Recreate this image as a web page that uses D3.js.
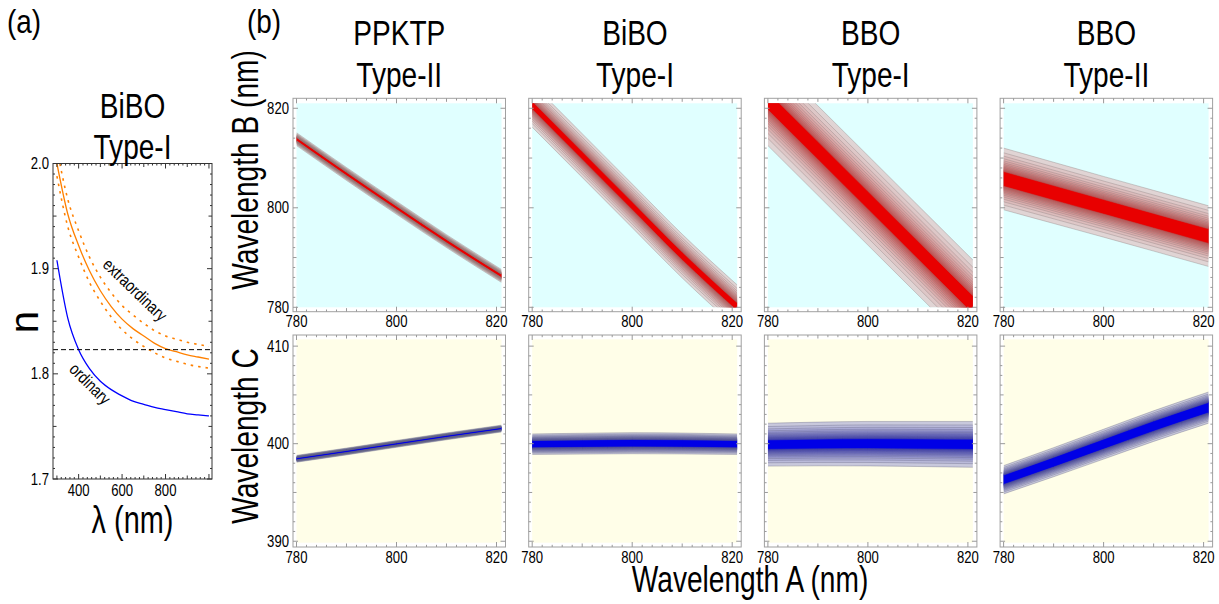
<!DOCTYPE html>
<html><head><meta charset="utf-8">
<script src="https://cdn.jsdelivr.net/npm/d3@7"></script>
<style>body{margin:0;background:#fff} svg{display:block} text{font-family:"Liberation Sans",Arial,sans-serif;fill:#000}</style>
</head><body><svg id="c" width="1219" height="604"></svg>
<script>
// ---------- panel (a) data ----------
const lambdaNm = [300,350,400,450,500,550,600,650,700,750,800,850,900,950,1000];
const nOrdinary = [1.908,1.853,1.823,1.805,1.793,1.785,1.779,1.774,1.771,1.768,1.766,1.764,1.762,1.761,1.760];
const nExtraordinary = [2.000,1.952,1.922,1.898,1.879,1.864,1.852,1.843,1.836,1.829,1.824,1.821,1.818,1.816,1.814];
const nExtraordinaryUpper = [2.014,1.966,1.936,1.911,1.892,1.877,1.865,1.856,1.848,1.841,1.836,1.833,1.830,1.828,1.826];
const nExtraordinaryLower = [1.988,1.940,1.911,1.887,1.869,1.854,1.842,1.833,1.826,1.820,1.815,1.812,1.809,1.807,1.8055];
const phaseMatchN = 1.823;
const aXTicks = [400, 600, 800];
const aYTicks = [1.7, 1.8, 1.9, 2.0];

// ---------- panel (b) data ----------
const crystals = ["PPKTP", "BiBO", "BBO", "BBO"];
const pmTypes = ["Type-II", "Type-I", "Type-I", "Type-II"];
const sampleA = [780, 790, 800, 810, 821];
const centerB = [
  [813.8, 806.8, 800.0, 793.3, 786.3],
  [820.6, 810.5, 800.4, 790.3, 780.1],
  [821.5, 811.5, 801.5, 791.5, 780.5],
  [805.8, 803.0, 800.2, 797.4, 794.3]];
const halfB = [
  [1.3, 1.3, 1.3, 1.3, 1.3],
  [4.4, 4.4, 4.4, 4.4, 4.4],
  [9.0, 9.0, 9.0, 9.0, 9.0],
  [6.2, 6.15, 6.1, 6.1, 6.1]];
const coreB = [0.25, 0.18, 0.2, 0.24];
const centerC = [
  [398.45, 399.2, 399.98, 400.75, 401.55],
  [399.95, 400.0, 400.05, 400.02, 399.95],
  [399.9, 399.97, 400.0, 399.97, 399.93],
  [396.3, 398.1, 399.95, 401.8, 403.7]];
const halfC = [
  [0.35, 0.35, 0.35, 0.35, 0.35],
  [1.05, 1.07, 1.08, 1.07, 1.05],
  [2.2, 2.24, 2.28, 2.31, 2.35],
  [1.45, 1.49, 1.53, 1.57, 1.6]];
const coreC = [0.3, 0.35, 0.22, 0.33];
const levelT = [1, 0.8, 0.66, 0.55, 0.46, 0.38, 0.31, 0.25, 0.19, 0.14, 0.09, 0.045];
const abTicks = [780, 800, 820];
const cTicks = [390, 400, 410];

const svg = d3.select("#c");
function label(str, x, y, size, opts = {}) {
  const {anchor = "middle", rotate = 0, sx = 0.78} = opts;
  return svg.append("text")
    .attr("transform", `translate(${x},${y}) rotate(${rotate}) scale(${sx},1)`)
    .attr("text-anchor", anchor).attr("font-size", size).text(str);
}

// ================= Panel (a) =================
const aL = 53, aR = 212, aT = 163.5, aB = 479;
const xA = d3.scaleLinear().domain([282, 1014]).range([aL, aR]);
const yA = d3.scaleLinear().domain([1.7, 2.0]).range([aB, aT]);
svg.append("clipPath").attr("id", "clipA").append("rect")
  .attr("x", aL).attr("y", aT).attr("width", aR - aL).attr("height", aB - aT);
const ga = svg.append("g");
const ca = ga.append("g").attr("clip-path", "url(#clipA)");
const lineA = arr => d3.line().x((d, i) => xA(lambdaNm[i])).y(d => yA(d)).curve(d3.curveMonotoneX)(arr);
ca.append("path").attr("d", lineA(nExtraordinaryUpper)).attr("fill", "none")
  .attr("stroke", "#ff8000").attr("stroke-width", 1.6).attr("stroke-dasharray", "2.5,5");
ca.append("path").attr("d", lineA(nExtraordinaryLower)).attr("fill", "none")
  .attr("stroke", "#ff8000").attr("stroke-width", 1.6).attr("stroke-dasharray", "2.5,5");
ca.append("path").attr("d", lineA(nExtraordinary)).attr("fill", "none")
  .attr("stroke", "#ff8000").attr("stroke-width", 1.3);
ca.append("path").attr("d", lineA(nOrdinary)).attr("fill", "none")
  .attr("stroke", "#0000ff").attr("stroke-width", 1.3);
ca.append("line").attr("x1", aL).attr("x2", aR).attr("y1", yA(phaseMatchN)).attr("y2", yA(phaseMatchN))
  .attr("stroke", "#000").attr("stroke-width", 1).attr("stroke-dasharray", "5,3");
ga.append("rect").attr("x", aL).attr("y", aT).attr("width", aR - aL).attr("height", aB - aT)
  .attr("fill", "none").attr("stroke", "#333").attr("stroke-width", 1);
for (let v = 300; v <= 1000; v += 20) {
  const len = v % 200 === 0 ? 5 : (v % 100 === 0 ? 3.5 : 2);
  const x = xA(v);
  ga.append("line").attr("x1", x).attr("x2", x).attr("y1", aB).attr("y2", aB - len).attr("stroke", "#333");
  ga.append("line").attr("x1", x).attr("x2", x).attr("y1", aT).attr("y2", aT + len).attr("stroke", "#333");
}
for (let k = 0; k <= 30; k++) {
  const v = 1.7 + k * 0.01;
  const len = k % 10 === 0 ? 5 : (k % 5 === 0 ? 3.5 : 2);
  const y = yA(v);
  ga.append("line").attr("x1", aL).attr("x2", aL + len).attr("y1", y).attr("y2", y).attr("stroke", "#333");
  ga.append("line").attr("x1", aR).attr("x2", aR - len).attr("y1", y).attr("y2", y).attr("stroke", "#333");
}
aXTicks.forEach(v => label(String(v), xA(v), aB + 17, 16, {sx: 0.82}));
aYTicks.forEach(v => label(v.toFixed(1), aL - 4, yA(v) + 5.5, 16, {anchor: "end", sx: 0.82}));
label("extraordinary", 131, 294, 17, {rotate: 44, sx: 0.82});
label("ordinary", 86, 388, 17, {rotate: 45, sx: 0.82});
label("BiBO", 132.5, 118, 36);
label("Type-I", 132.5, 159, 36);
label("n", 38, 322, 40, {rotate: -90, sx: 1.0});
label("λ (nm)", 132.5, 533, 38, {sx: 0.76});
label("(a)", 7, 33, 34, {anchor: "start", sx: 0.82});

// ================= Panel (b) =================
label("(b)", 247, 33, 34, {anchor: "start", sx: 0.82});
const frameW = 212.5;
const rows = [
  {fT: 98.3, fB: 311.7, pT: 103.3, pB: 307.3, dom: [780, 821], center: centerB, half: halfB, core: coreB,
   bg: "#e0ffff", outer: "#e0d4d4", inner: "#cc4a4a", coreCol: "#e80000", line: "#8a7e7e",
   ticks: abTicks, minor: 2},
  {fT: 335, fB: 547, pT: 339.3, pB: 542.7, dom: [389.85, 410.7], center: centerC, half: halfC, core: coreC,
   bg: "#fffee8", outer: "#c8c8dc", inner: "#2c2cc4", coreCol: "#0000e6", line: "#646480",
   ticks: cTicks, minor: 1}
];
crystals.forEach((name, ci) => {
  const fL = 293 + ci * 235.7, fR = fL + frameW;
  const pL = fL + 3.5, pR = fL + 208.5;
  const xs = d3.scaleLinear().domain([780, 821]).range([pL, pR]);
  label(name, (fL + fR) / 2, 45, 36);
  label(pmTypes[ci], (fL + fR) / 2, 87, 36);
  rows.forEach((r, ri) => {
    const ys = d3.scaleLinear().domain(r.dom).range([r.pB, r.pT]);
    const g = svg.append("g");
    const cid = `clip${ci}_${ri}`;
    svg.append("clipPath").attr("id", cid).append("rect")
      .attr("x", pL).attr("y", r.pT).attr("width", pR - pL).attr("height", r.pB - r.pT);
    g.append("rect").attr("x", pL).attr("y", r.pT).attr("width", pR - pL).attr("height", r.pB - r.pT).attr("fill", r.bg);
    const cg = g.append("g").attr("clip-path", `url(#${cid})`);
    const center = r.center[ci], half = r.half[ci], core = r.core[ci];
    const nL = levelT.length;
    const fracs = levelT.map(t => core + (1 - core) * t);
    const col = d3.interpolateRgb(r.outer, r.inner);
    const areaFor = f => d3.area().x(d => xs(d)).y0((d, j) => ys(center[j] - f * half[j]))
      .y1((d, j) => ys(center[j] + f * half[j])).curve(d3.curveMonotoneX)(sampleA);
    const lineFor = f => d3.line().x(d => xs(d)).y((d, j) => ys(center[j] + f * half[j])).curve(d3.curveMonotoneX)(sampleA);
    fracs.forEach((f, i) => {
      cg.append("path").attr("d", areaFor(f)).attr("fill", col(i / (nL - 1)));
    });
    cg.append("path").attr("d", areaFor(core)).attr("fill", r.coreCol);
    fracs.concat([core]).forEach(f => {
      [f, -f].forEach(s => cg.append("path").attr("d", lineFor(s)).attr("fill", "none")
        .attr("stroke", r.line).attr("stroke-opacity", 0.6).attr("stroke-width", 0.6));
    });
    g.append("rect").attr("x", fL).attr("y", r.fT).attr("width", frameW).attr("height", r.fB - r.fT)
      .attr("fill", "none").attr("stroke", "#a0a0a0").attr("stroke-width", 1);
    for (let v = 780; v <= 821; v += 2) {
      const len = v % 20 === 0 ? 5 : (v % 10 === 0 ? 3.5 : 2.2);
      const x = xs(v);
      g.append("line").attr("x1", x).attr("x2", x).attr("y1", r.fB).attr("y2", r.fB - len).attr("stroke", "#999");
      g.append("line").attr("x1", x).attr("x2", x).attr("y1", r.fT).attr("y2", r.fT + len).attr("stroke", "#999");
    }
    const d0 = Math.ceil(r.dom[0]), d1 = Math.floor(r.dom[1]);
    for (let v = d0; v <= d1; v += r.minor) {
      const big = r.ticks[1] - r.ticks[0];
      const len = v % big === 0 ? 5 : (v % (big / 2) === 0 ? 3.5 : 2.2);
      const y = ys(v);
      g.append("line").attr("x1", fL).attr("x2", fL + len).attr("y1", y).attr("y2", y).attr("stroke", "#999");
      g.append("line").attr("x1", fR).attr("x2", fR - len).attr("y1", y).attr("y2", y).attr("stroke", "#999");
    }
    abTicks.forEach(v => label(String(v), xs(v), r.fB + 15.5, 16, {sx: 0.82}));
    if (ci === 0) r.ticks.forEach(v => label(String(v), fL - 4, ys(v) + 5.5, 16, {anchor: "end", sx: 0.82}));
  });
});
label("Wavelength B (nm)", 258, 170, 37, {rotate: -90, sx: 0.76});
label("Wavelength C", 258, 436, 37, {rotate: -90, sx: 0.76});
label("Wavelength A (nm)", 750, 592, 37, {sx: 0.76});
</script></body></html>
